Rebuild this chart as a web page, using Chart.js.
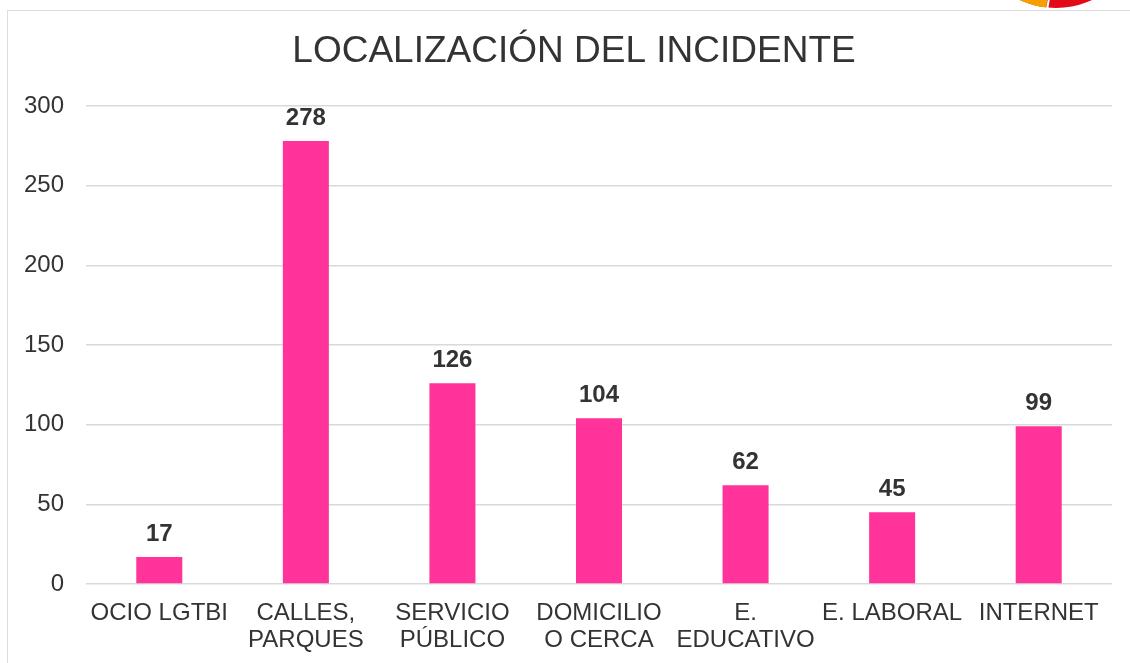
<!DOCTYPE html>
<html>
<head>
<meta charset="utf-8">
<script src="https://cdn.jsdelivr.net/npm/chart.js@4.4.0/dist/chart.umd.min.js"></script>
<style>
  html, body { margin: 0; padding: 0; background: #fff; overflow: hidden; }
  #wrap { position: relative; width: 1130px; height: 663px; }
  #frame { position: absolute; left: 7px; top: 10px; width: 1140px; height: 670px;
           border: 1.5px solid #dedede; box-sizing: border-box; }
  #logo { position: absolute; left: 960px; top: -170px; }
  canvas { position: absolute; left: 0; top: 0; }
</style>
</head>
<body>
<div id="wrap">
  <div id="frame"></div>
  <svg id="logo" width="200" height="180" viewBox="0 0 200 180">
    <circle cx="96" cy="93" r="81" fill="none" stroke="#e30a17" stroke-width="8"></circle>
    <path d="M 86.8 173.5 A 81 81 0 0 1 38.7 150.3" fill="none" stroke="#f5a000" stroke-width="8"></path>
    <line x1="89" y1="168" x2="87" y2="180" stroke="#fff" stroke-width="2"></line>
  </svg>
  <canvas id="chart" width="1130" height="663"></canvas>
</div>
<script>
// Datos
const titulo = 'LOCALIZACIÓN DEL INCIDENTE';
const categorias = [
  'OCIO LGTBI',
  ['CALLES,', 'PARQUES'],
  ['SERVICIO', 'PÚBLICO'],
  ['DOMICILIO', 'O CERCA'],
  ['E.', 'EDUCATIVO'],
  'E. LABORAL',
  'INTERNET'
];
const incidentes = [17, 278, 126, 104, 62, 45, 99];
const ticksY = [0, 50, 100, 150, 200, 250, 300];

const colorBarra = '#ff3399';
const colorTexto = '#333333';
const fuente = '"Liberation Sans", Arial, sans-serif';

// Título y valores encima de cada barra
const textosExtra = {
  id: 'textosExtra',
  afterDatasetsDraw(chart) {
    const ctx = chart.ctx;
    const meta = chart.getDatasetMeta(0);
    ctx.save();
    ctx.fillStyle = colorTexto;
    ctx.textAlign = 'center';
    ctx.textBaseline = 'middle';
    ctx.font = '37px ' + fuente;
    ctx.fillText(titulo, 574, 52);

    ctx.font = 'bold 24px ' + fuente;
    ctx.textBaseline = 'alphabetic';
    meta.data.forEach((bar, i) => {
      ctx.fillText(String(incidentes[i]), bar.x, bar.y - 16);
    });
    ctx.restore();
  }
};

new Chart(document.getElementById('chart'), {
  type: 'bar',
  data: {
    labels: categorias,
    datasets: [{
      label: 'Incidentes',
      data: incidentes,
      backgroundColor: colorBarra,
      borderWidth: 0,
      categoryPercentage: 1,
      barPercentage: 0.314
    }]
  },
  options: {
    responsive: false,
    animation: false,
    layout: { padding: { left: 0, right: 18, top: 106, bottom: 0 } },
    plugins: {
      legend: { display: false },
      tooltip: { enabled: false },
      title: { display: false }
    },
    scales: {
      y: {
        min: 0,
        max: 300,
        afterBuildTicks: scale => { scale.ticks = ticksY.map(v => ({ value: v })); },
        afterFit: scale => { scale.width = 86; },
        grid: { color: '#d9d9d9', lineWidth: 1.5, drawTicks: false },
        border: { display: false },
        ticks: {
          padding: 22,
          color: colorTexto,
          font: { family: fuente, size: 24 }
        }
      },
      x: {
        afterFit: scale => { scale.height = 79; },
        grid: { display: false, drawTicks: false },
        border: { display: false },
        ticks: {
          padding: 16,
          maxRotation: 0,
          autoSkip: false,
          color: colorTexto,
          font: { family: fuente, size: 24, lineHeight: 1.125 }
        }
      }
    }
  },
  plugins: [textosExtra]
});
</script>
</body>
</html>
